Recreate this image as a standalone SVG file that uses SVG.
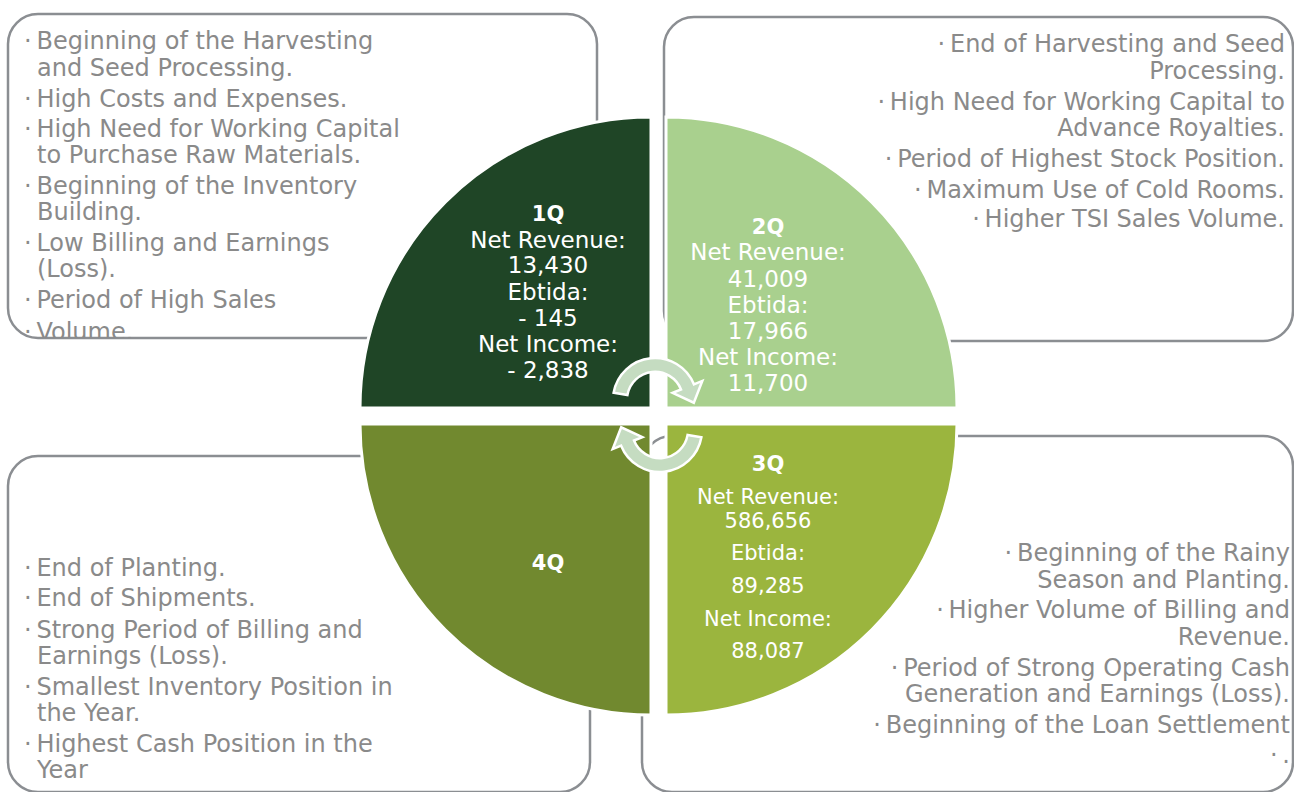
<svg xmlns="http://www.w3.org/2000/svg" width="1294" height="792" viewBox="0 0 1294 792">
<style>
.box{fill:none;stroke:#8b8e92;stroke-width:2.5}
.bt{font-family:"DejaVu Sans","Liberation Sans",sans-serif;font-size:24px;fill:#8a8a8a}
.r{text-anchor:end}
.q{stroke:#ffffff;stroke-width:3}
.qt{font-family:"DejaVu Sans","Liberation Sans",sans-serif;font-size:23px;fill:#ffffff;text-anchor:middle}
.qs{font-size:21px}
.qb{font-weight:bold;font-size:21px}
.arr{fill:#c5dcc1;stroke:#ffffff;stroke-width:2.5;stroke-linejoin:miter}
</style>
<defs>
<clipPath id="clip1"><rect x="0" y="0" width="640" height="338"/></clipPath>
<path id="cyc" d="M613.6,392.7 A42,42 0 0 1 693.9,384.3 L702.3,380.9 L693.8,402.7 L672.6,392.9 L681.0,389.5 A28,28 0 0 0 627.4,395.1 Z"/>
</defs>
<rect width="1294" height="792" fill="#ffffff"/>

<g id="box-1q">
<rect class="box" x="8" y="14" width="589" height="324" rx="30"/>
<g clip-path="url(#clip1)">
<text class="bt" x="24" y="49">·&#8201;Beginning of the Harvesting</text>
<text class="bt" x="37" y="76">and Seed Processing.</text>
<text class="bt" x="24" y="107">·&#8201;High Costs and Expenses.</text>
<text class="bt" x="24" y="137">·&#8201;High Need for Working Capital</text>
<text class="bt" x="37" y="163">to Purchase Raw Materials.</text>
<text class="bt" x="24" y="194">·&#8201;Beginning of the Inventory</text>
<text class="bt" x="37" y="220">Building.</text>
<text class="bt" x="24" y="251">·&#8201;Low Billing and Earnings</text>
<text class="bt" x="37" y="277">(Loss).</text>
<text class="bt" x="24" y="308">·&#8201;Period of High Sales</text>
<text class="bt" x="24" y="340">·&#8201;Volume.</text>
</g>
</g>

<g id="box-2q">
<rect class="box" x="664" y="17" width="629" height="324" rx="30"/>
<text class="bt r" x="1285" y="52">·&#8201;End of Harvesting and Seed</text>
<text class="bt r" x="1285" y="79">Processing.</text>
<text class="bt r" x="1285" y="110">·&#8201;High Need for Working Capital to</text>
<text class="bt r" x="1285" y="136">Advance Royalties.</text>
<text class="bt r" x="1285" y="167">·&#8201;Period of Highest Stock Position.</text>
<text class="bt r" x="1285" y="198">·&#8201;Maximum Use of Cold Rooms.</text>
<text class="bt r" x="1285" y="227">·&#8201;Higher TSI Sales Volume.</text>
</g>

<g id="box-3q">
<rect class="box" x="642" y="436" width="651" height="356" rx="30"/>
<text class="bt r" x="1290" y="561">·&#8201;Beginning of the Rainy</text>
<text class="bt r" x="1290" y="588">Season and Planting.</text>
<text class="bt r" x="1290" y="618">·&#8201;Higher Volume of Billing and</text>
<text class="bt r" x="1290" y="645">Revenue.</text>
<text class="bt r" x="1290" y="676">·&#8201;Period of Strong Operating Cash</text>
<text class="bt r" x="1290" y="702">Generation and Earnings (Loss).</text>
<text class="bt r" x="1290" y="733">·&#8201;Beginning of the Loan Settlement</text>
<text class="bt r" x="1290" y="763">·&#8201;.</text>
</g>

<g id="box-4q">
<rect class="box" x="8" y="456" width="582" height="336" rx="30"/>
<text class="bt" x="24" y="576">·&#8201;End of Planting.</text>
<text class="bt" x="24" y="606">·&#8201;End of Shipments.</text>
<text class="bt" x="24" y="638">·&#8201;Strong Period of Billing and</text>
<text class="bt" x="37" y="664">Earnings (Loss).</text>
<text class="bt" x="24" y="695">·&#8201;Smallest Inventory Position in</text>
<text class="bt" x="37" y="721">the Year.</text>
<text class="bt" x="24" y="752">·&#8201;Highest Cash Position in the</text>
<text class="bt" x="37" y="778">Year</text>
</g>

<g id="q1">
<path class="q" fill="#1f4526" d="M651,408 L360,408 A291,291 0 0 1 651,117 Z"/>
<text class="qt" x="548"><tspan class="qb" x="548" y="221">1Q</tspan><tspan x="548" y="248">Net Revenue:</tspan><tspan x="548" y="273">13,430</tspan><tspan x="548" y="300">Ebtida:</tspan><tspan x="548" y="326">- 145</tspan><tspan x="548" y="352">Net Income:</tspan><tspan x="548" y="378">- 2,838</tspan></text>
</g>

<g id="q2">
<path class="q" fill="#a9d08e" d="M666,408 L666,117 A291,291 0 0 1 957,408 Z"/>
<text class="qt" x="768"><tspan class="qb" x="768" y="234">2Q</tspan><tspan x="768" y="260">Net Revenue:</tspan><tspan x="768" y="287">41,009</tspan><tspan x="768" y="313">Ebtida:</tspan><tspan x="768" y="339">17,966</tspan><tspan x="768" y="365">Net Income:</tspan><tspan x="768" y="391">11,700</tspan></text>
</g>

<g id="q3">
<path class="q" fill="#9bb53e" d="M666,424 L957,424 A291,291 0 0 1 666,715 Z"/>
<text class="qt qs" x="768"><tspan class="qb" x="768" y="471">3Q</tspan><tspan x="768" y="504">Net Revenue:</tspan><tspan x="768" y="528">586,656</tspan><tspan x="768" y="560">Ebtida:</tspan><tspan x="768" y="593">89,285</tspan><tspan x="768" y="626">Net Income:</tspan><tspan x="768" y="658">88,087</tspan></text>
</g>

<g id="q4">
<path class="q" fill="#71892f" d="M651,424 L651,715 A291,291 0 0 1 360,424 Z"/>
<text class="qt qb" x="548" y="570">4Q</text>
</g>

<g id="connectors">
<use href="#cyc" class="arr"/>
<use href="#cyc" class="arr" transform="rotate(180 657.5 415)"/>
</g>
</svg>
